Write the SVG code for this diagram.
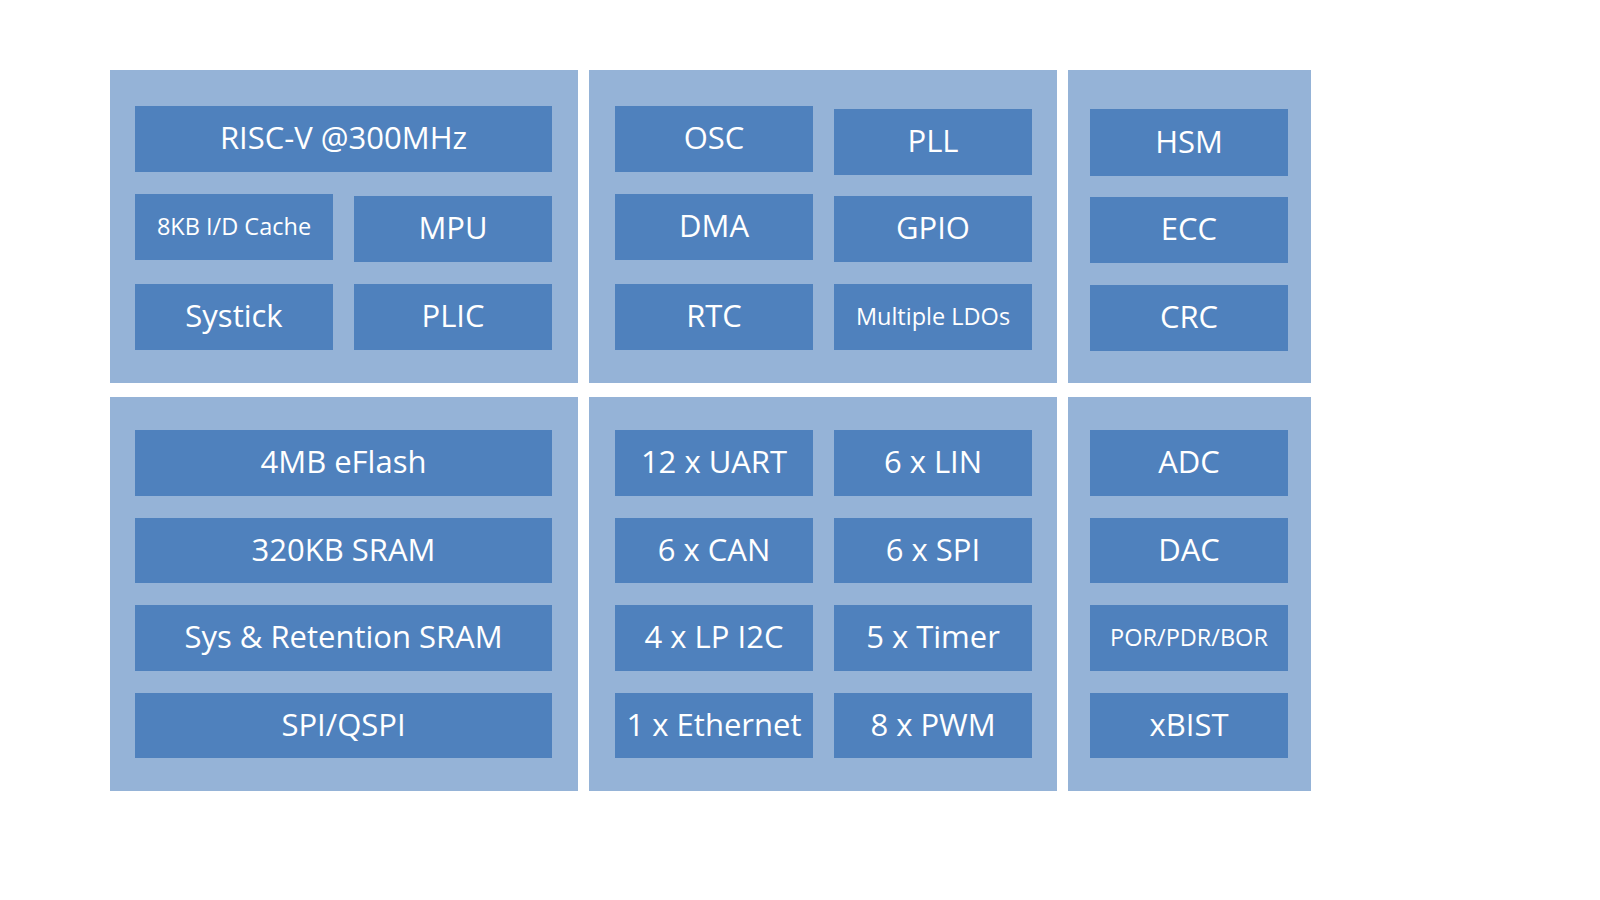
<svg xmlns="http://www.w3.org/2000/svg" width="1600" height="900" viewBox="0 0 1600 900">
<style>
.panel{fill:#95B3D7}
.box{fill:#4F81BD}
.t{font-family:"Open Sans","Noto Sans","Liberation Sans",sans-serif;fill:#FFFFFF;text-anchor:middle;font-size:31px}
.s{font-size:23.5px}
</style>
<rect x="0" y="0" width="1600" height="900" fill="#FFFFFF"/>
<g id="panels">
<rect id="panel-core" class="panel" x="110" y="70" width="468" height="313"/>
<rect id="panel-system" class="panel" x="589" y="70" width="468" height="313"/>
<rect id="panel-safety" class="panel" x="1068" y="70" width="243" height="313"/>
<rect id="panel-memory" class="panel" x="110" y="397" width="468" height="394"/>
<rect id="panel-comms" class="panel" x="589" y="397" width="468" height="394"/>
<rect id="panel-analog" class="panel" x="1068" y="397" width="243" height="394"/>
</g>
<g id="connectors"></g>
<g id="risc-v"><rect class="box" x="135" y="106" width="417" height="66"/><text class="t" x="343.5" y="149">RISC-V @300MHz</text></g>
<g id="cache"><rect class="box" x="135" y="194" width="198" height="66"/><text class="t s" x="234" y="235">8KB I/D Cache</text></g>
<g id="mpu"><rect class="box" x="354" y="196" width="198" height="66"/><text class="t" x="453" y="239">MPU</text></g>
<g id="systick"><rect class="box" x="135" y="284" width="198" height="66"/><text class="t" x="234" y="327">Systick</text></g>
<g id="plic"><rect class="box" x="354" y="284" width="198" height="66"/><text class="t" x="453" y="327">PLIC</text></g>

<g id="osc"><rect class="box" x="615" y="106" width="198" height="66"/><text class="t" x="714" y="149">OSC</text></g>
<g id="pll"><rect class="box" x="834" y="109" width="198" height="66"/><text class="t" x="933" y="152">PLL</text></g>
<g id="dma"><rect class="box" x="615" y="194" width="198" height="66"/><text class="t" x="714" y="237">DMA</text></g>
<g id="gpio"><rect class="box" x="834" y="196" width="198" height="66"/><text class="t" x="933" y="239">GPIO</text></g>
<g id="rtc"><rect class="box" x="615" y="284" width="198" height="66"/><text class="t" x="714" y="327">RTC</text></g>
<g id="ldos"><rect class="box" x="834" y="284" width="198" height="66"/><text class="t s" x="933" y="325">Multiple LDOs</text></g>

<g id="hsm"><rect class="box" x="1090" y="109" width="198" height="67"/><text class="t" x="1189" y="152.5">HSM</text></g>
<g id="ecc"><rect class="box" x="1090" y="197" width="198" height="66"/><text class="t" x="1189" y="240">ECC</text></g>
<g id="crc"><rect class="box" x="1090" y="285" width="198" height="66"/><text class="t" x="1189" y="328">CRC</text></g>

<g id="eflash"><rect class="box" x="135" y="430" width="417" height="66"/><text class="t" x="343.5" y="473">4MB eFlash</text></g>
<g id="sram"><rect class="box" x="135" y="518" width="417" height="65"/><text class="t" x="343.5" y="560.5">320KB SRAM</text></g>
<g id="ret-sram"><rect class="box" x="135" y="605" width="417" height="66"/><text class="t" x="343.5" y="648">Sys &amp; Retention SRAM</text></g>
<g id="qspi"><rect class="box" x="135" y="693" width="417" height="65"/><text class="t" x="343.5" y="735.5">SPI/QSPI</text></g>

<g id="uart"><rect class="box" x="615" y="430" width="198" height="66"/><text class="t" x="714" y="473">12 x UART</text></g>
<g id="lin"><rect class="box" x="834" y="430" width="198" height="66"/><text class="t" x="933" y="473">6 x LIN</text></g>
<g id="can"><rect class="box" x="615" y="518" width="198" height="65"/><text class="t" x="714" y="560.5">6 x CAN</text></g>
<g id="spi"><rect class="box" x="834" y="518" width="198" height="65"/><text class="t" x="933" y="560.5">6 x SPI</text></g>
<g id="i2c"><rect class="box" x="615" y="605" width="198" height="66"/><text class="t" x="714" y="648">4 x LP I2C</text></g>
<g id="timer"><rect class="box" x="834" y="605" width="198" height="66"/><text class="t" x="933" y="648">5 x Timer</text></g>
<g id="ethernet"><rect class="box" x="615" y="693" width="198" height="65"/><text class="t" x="714" y="735.5">1 x Ethernet</text></g>
<g id="pwm"><rect class="box" x="834" y="693" width="198" height="65"/><text class="t" x="933" y="735.5">8 x PWM</text></g>

<g id="adc"><rect class="box" x="1090" y="430" width="198" height="66"/><text class="t" x="1189" y="473">ADC</text></g>
<g id="dac"><rect class="box" x="1090" y="518" width="198" height="65"/><text class="t" x="1189" y="560.5">DAC</text></g>
<g id="por"><rect class="box" x="1090" y="605" width="198" height="66"/><text class="t s" x="1189" y="646">POR/PDR/BOR</text></g>
<g id="xbist"><rect class="box" x="1090" y="693" width="198" height="65"/><text class="t" x="1189" y="735.5">xBIST</text></g>
</svg>
